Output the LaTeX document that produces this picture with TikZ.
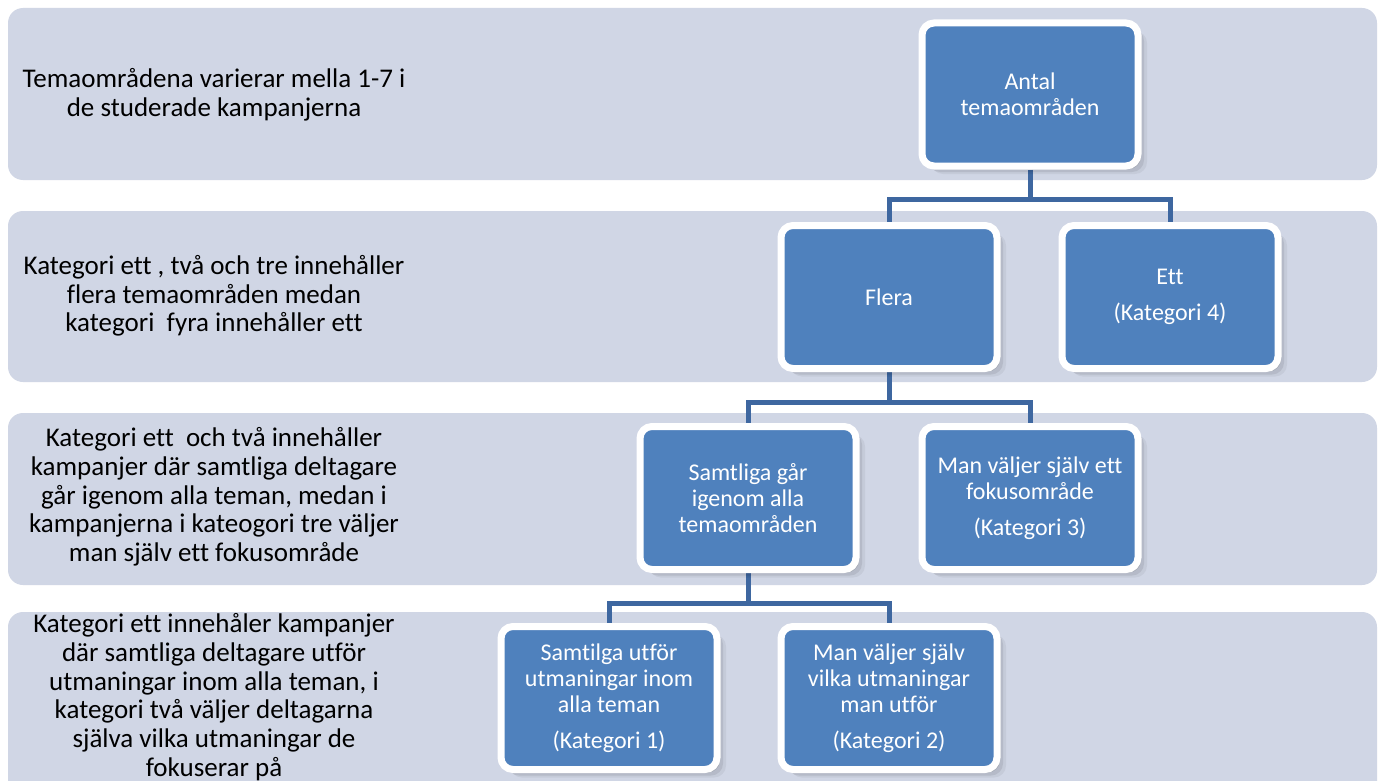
\documentclass[tikz,border=0pt]{standalone}
\usepackage{fontspec}
\setmainfont{Carlito}[Ligatures=NoCommon]
\usetikzlibrary{shadows,calc}
\definecolor{bandcol}{RGB}{208,214,229}
\definecolor{boxblue}{RGB}{79,129,189}
\definecolor{conncol}{RGB}{62,103,160}
\pgfdeclarelayer{bg}
\pgfdeclarelayer{lines}
\pgfsetlayers{bg,lines,main}
\begin{document}
\begin{tikzpicture}[x=1pt,y=-1pt,
  bandbox/.style={fill=bandcol, rounded corners=15pt},
  sidetext/.style={align=center, font=\fontsize{27}{28.7}\selectfont, text=black, inner sep=0pt},
  boxshadow/.style={
    drop shadow={shadow xshift=3pt,shadow yshift=-3pt,opacity=0.10,fill=black},
    drop shadow={shadow xshift=6pt,shadow yshift=-6pt,opacity=0.08,fill=black},
    drop shadow={shadow xshift=9pt,shadow yshift=-8pt,opacity=0.05,fill=black}},
  catbox/.style={rectangle, boxshadow, fill=boxblue, draw=white, line width=7pt,
    rounded corners=12pt, minimum width=216pt, minimum height=143pt,
    align=center, text=white, font=\fontsize{24}{26}\selectfont, inner sep=0pt},
  connline/.style={draw=conncol, line width=5pt}]
\useasboundingbox (0,0) rectangle (1378,781);

% bands
\begin{pgfonlayer}{bg}
  \fill[white] (0,0) rectangle (1378,781);
  \begin{scope}
    \clip (0,0) rectangle (1378,781);
    \fill[bandbox] (8,8) rectangle (1377,180);
    \fill[bandbox] (8,211) rectangle (1377,382);
    \fill[bandbox] (8,413) rectangle (1377,585);
    \fill[bandbox] (8,612) rectangle (1377,800);
  \end{scope}
\end{pgfonlayer}

% side texts
\node[sidetext] (t1) at (214,95) {Temaområdena varierar mella 1-7 i\\de studerade kampanjerna};
\node[sidetext] (t2) at (214,296) {Kategori ett , två och tre innehåller\\flera temaområden medan\\kategori\ \ fyra innehåller ett};
\node[sidetext] (t3) at (214,497) {Kategori ett\ \ och två innehåller\\kampanjer där samtliga deltagare\\går igenom alla teman, medan i\\kampanjerna i kateogori tre väljer\\man själv ett fokusområde};
\node[sidetext] (t4) at (214,697) {Kategori ett innehåler kampanjer\\där samtliga deltagare utför\\utmaningar inom alla teman, i\\kategori två väljer deltagarna\\själva vilka utmaningar de\\fokuserar på};

% boxes
\node[catbox] (antal) at (1030,94.5) {Antal\\temaområden};
\node[catbox] (flera) at (889,297) {Flera};
\node[catbox] (ett) at (1170,297) {Ett\\[10pt](Kategori 4)};
\node[catbox] (samtgar) at (748,498) {Samtliga går\\igenom alla\\temaområden};
\node[catbox] (fokus) at (1030,498) {Man väljer själv ett\\fokusområde\\[10pt](Kategori 3)};
\node[catbox] (utfor) at (609,698) {Samtilga utför\\utmaningar inom\\alla teman\\[10pt](Kategori 1)};
\node[catbox] (vilka) at (889,698) {Man väljer själv\\vilka utmaningar\\man utför\\[10pt](Kategori 2)};

% connectors
\begin{pgfonlayer}{lines}
  \draw[connline] (antal.south) -- ++(0,30) -| (flera.north);
  \draw[connline] (antal.south) -- ++(0,30) -| (ett.north);
  \draw[connline] (flera.south) -- ++(0,30) -| (samtgar.north);
  \draw[connline] (flera.south) -- ++(0,30) -| (fokus.north);
  \draw[connline] (samtgar.south) -- ++(0,30) -| (utfor.north);
  \draw[connline] (samtgar.south) -- ++(0,30) -| (vilka.north);
\end{pgfonlayer}
\end{tikzpicture}
\end{document}
